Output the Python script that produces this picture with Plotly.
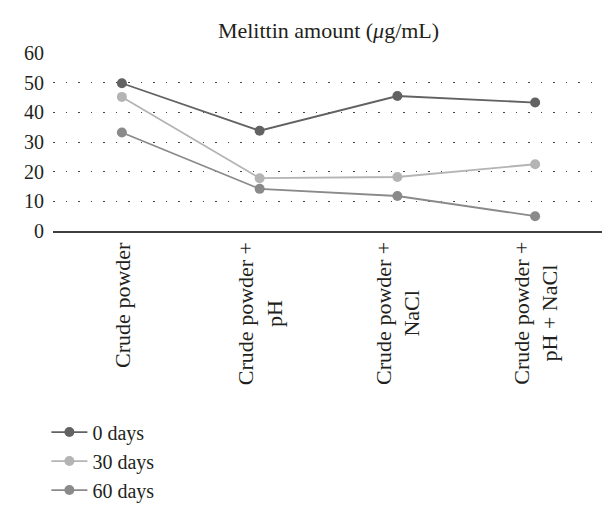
import plotly.graph_objects as go

categories = ["Crude powder", "Crude powder +<br>pH", "Crude powder +<br>NaCl", "Crude powder +<br>pH + NaCl"]
series_names = ["0 days", "30 days", "60 days"]
days0 = [49.8, 33.8, 45.5, 43.3]
days30 = [45.2, 17.8, 18.2, 22.5]
days60 = [33.2, 14.2, 11.8, 5.0]
y_ticks = [0, 10, 20, 30, 40, 50, 60]

colors = ["#626262", "#b4b4b4", "#8a8a8a"]
FONT = "Liberation Serif, Times New Roman, serif"
TXT = "#231f20"

fig = go.Figure()
for name, vals, col in zip(series_names, [days0, days30, days60], colors):
    fig.add_trace(go.Scatter(
        x=categories, y=vals, name=name, mode="lines+markers",
        line=dict(color=col, width=1.8),
        marker=dict(color=col, size=10),
    ))

# category labels under the axis, rotated, lines centred on each other
for cat in categories:
    fig.add_annotation(
        x=cat, xref="x", y=0, yref="paper", yanchor="top", xanchor="center",
        yshift=-9, text=cat, textangle=-90, align="center", showarrow=False,
        font=dict(family=FONT, size=22, color=TXT),
    )

fig.update_layout(
    width=610, height=514,
    margin=dict(l=45, r=14, t=45, b=283),
    paper_bgcolor="white", plot_bgcolor="white",
    font=dict(family=FONT, size=20, color=TXT),
    title=dict(text="Melittin amount (<i>μ</i>g/mL)", x=0.5, xref="paper",
               y=1 - 22 / 514, yref="container", yanchor="middle", xanchor="center",
               font=dict(family=FONT, size=22, color=TXT)),
    showlegend=True,
    legend=dict(x=-0.012, y=-1.02, xanchor="left", yanchor="top",
                font=dict(family=FONT, size=20, color=TXT), itemwidth=36,
                bgcolor="rgba(0,0,0,0)", tracegroupgap=0),
)
fig.update_xaxes(
    type="category", categoryorder="array", categoryarray=categories,
    range=[-0.5, 3.5], showticklabels=False, showgrid=False, zeroline=False,
    showline=True, linecolor="#3f3f3f", linewidth=2.2, ticks="",
)
fig.update_yaxes(
    range=[0, 60], tickvals=y_ticks, showline=False, zeroline=False,
    showgrid=True, gridcolor="#444444", gridwidth=1.3, griddash="1.5px,11px",
    tickfont=dict(family=FONT, size=20, color=TXT), ticklabelstandoff=8,
)
fig.write_html("out.html")
